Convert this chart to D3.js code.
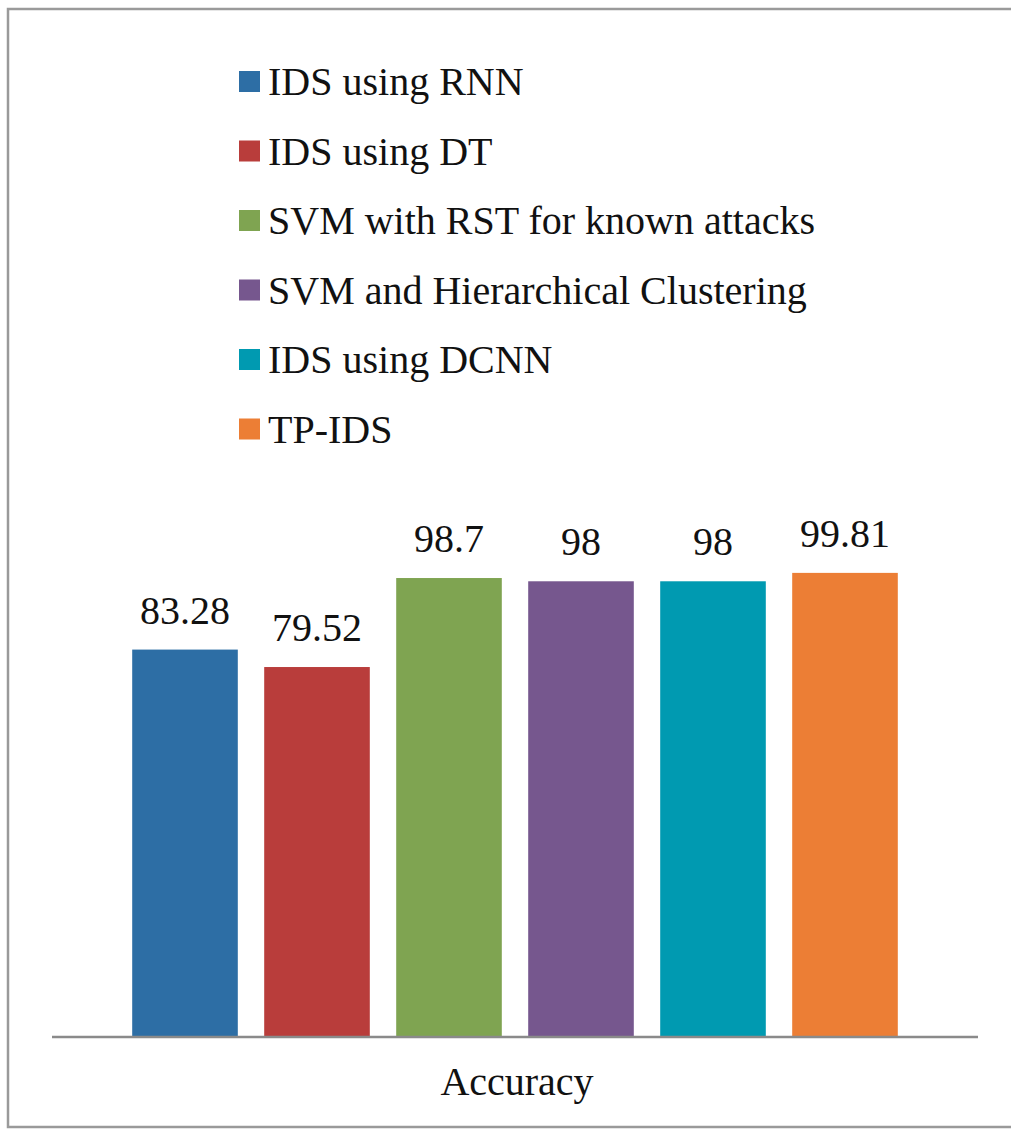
<!DOCTYPE html>
<html>
<head>
<meta charset="utf-8">
<script src="https://cdn.jsdelivr.net/npm/d3@7"></script>
<style>
  html, body { margin: 0; padding: 0; background: #fff; }
</style>
</head>
<body>
<div id="chart"></div>
<script>
// data
const methods = ["IDS using RNN", "IDS using DT", "SVM with RST for known attacks",
                 "SVM and Hierarchical Clustering", "IDS using DCNN", "TP-IDS"];
const accuracy = [83.28, 79.52, 98.7, 98, 98, 99.81];
const valueLabels = ["83.28", "79.52", "98.7", "98", "98", "99.81"];
const colors = ["#2d6ea5", "#b93d3b", "#7fa451", "#76578e", "#009ab1", "#ec7e35"];
const categoryLabel = "Accuracy";

const width = 1011, height = 1129;
const font = "'Liberation Serif', 'Times New Roman', Times, serif";

const svg = d3.select("#chart").append("svg")
    .attr("width", width).attr("height", height)
    .style("display", "block");

// cadre du graphique
svg.append("rect")
    .attr("x", 8).attr("y", 9)
    .attr("width", 1020).attr("height", 1118)
    .attr("fill", "none").attr("stroke", "#9a9a9a").attr("stroke-width", 2.5);

const x = d3.scaleBand()
    .domain(methods)
    .range([119, 911])
    .paddingInner(0.2)
    .paddingOuter(0.1);

const y = d3.scaleLinear()
    .domain([0, 100])
    .range([1036, 572]);

// barres
svg.append("g").selectAll("rect")
    .data(methods).join("rect")
    .attr("x", d => x(d))
    .attr("y", (d, i) => y(accuracy[i]))
    .attr("width", x.bandwidth())
    .attr("height", (d, i) => y(0) - y(accuracy[i]))
    .attr("fill", (d, i) => colors[i]);

// étiquettes de valeurs
svg.append("g").selectAll("text")
    .data(methods).join("text")
    .attr("x", d => x(d) + x.bandwidth() / 2)
    .attr("y", (d, i) => y(accuracy[i]) - 26)
    .attr("text-anchor", "middle")
    .attr("font-family", font)
    .style("font-size", "40px").style("fill", "#111")
    .text((d, i) => valueLabels[i]);

// axe horizontal
svg.append("line")
    .attr("x1", 52).attr("x2", 978)
    .attr("y1", y(0) + 1).attr("y2", y(0) + 1)
    .attr("stroke", "#8a8a8a").attr("stroke-width", 2.5);

svg.append("text")
    .attr("x", 517).attr("y", 1095)
    .attr("text-anchor", "middle")
    .attr("font-family", font)
    .style("font-size", "40px").style("fill", "#111")
    .text(categoryLabel);

// légende
const legend = svg.append("g").selectAll("g")
    .data(methods).join("g")
    .attr("transform", (d, i) => `translate(239, ${81 + i * 69.5})`);

legend.append("rect")
    .attr("x", 0).attr("y", -10)
    .attr("width", 21).attr("height", 21)
    .attr("fill", (d, i) => colors[i]);

legend.append("text")
    .attr("x", 29).attr("y", 0)
    .attr("dy", "0.35em")
    .attr("font-family", font)
    .style("font-size", "40px").style("fill", "#111")
    .text(d => d);
</script>
</body>
</html>
